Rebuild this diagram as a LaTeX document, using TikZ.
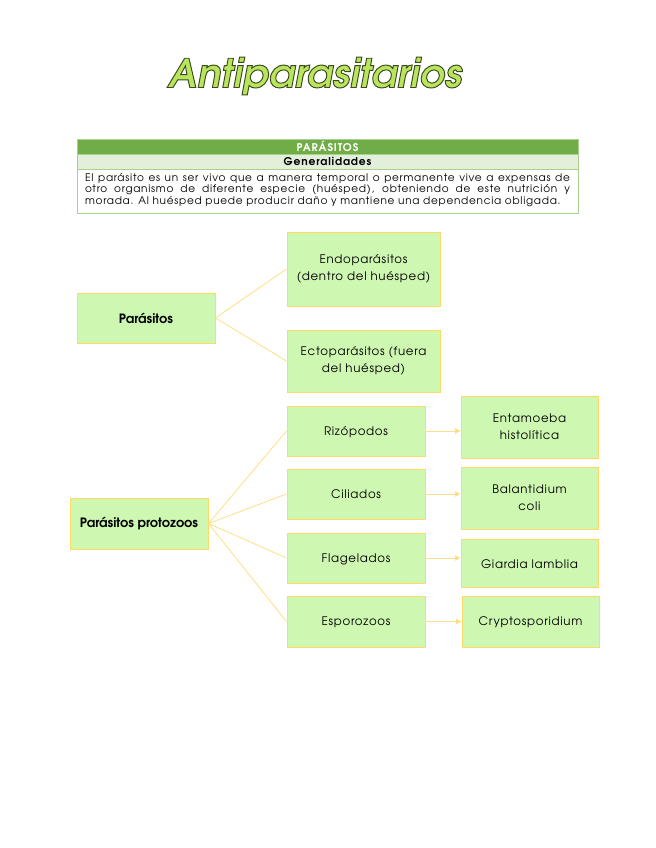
\documentclass[tikz,border=0pt]{standalone}
\usepackage{fontspec}
\setmainfont{texgyreadventor}[Extension=.otf, UprightFont=*-regular, BoldFont=*-bold, ItalicFont=*-italic, BoldItalicFont=*-bolditalic]
\newfontfamily\trackfont{texgyreadventor}[Extension=.otf, UprightFont=*-regular, BoldFont=*-bold, LetterSpace=6]
\newfontfamily\parafont{texgyreadventor}[Extension=.otf, UprightFont=*-regular, BoldFont=*-bold, LetterSpace=7]
\newfontfamily\headfont{texgyreadventor}[Extension=.otf, UprightFont=*-bold, LetterSpace=8]
\usetikzlibrary{arrows.meta,fit}
\definecolor{boxfill}{HTML}{CEF7B2}
\definecolor{boxline}{HTML}{FFD966}
\definecolor{conline}{HTML}{FFE08A}
\definecolor{hdrgreen}{HTML}{70AD47}
\definecolor{subgreen}{HTML}{E2EFDA}
\definecolor{tabline}{HTML}{A9D08E}
\definecolor{titlefill}{HTML}{B8E55C}
\tikzset{
  box/.style={draw=boxline, fill=boxfill, line width=0.9pt, inner sep=0pt},
  boxtext/.style={inner sep=0pt, align=center, font={\trackfont\fontsize{11}{15.5}\selectfont}},
  boldtext/.style={inner sep=0pt, align=center, font={\bfseries\fontsize{12}{15}\selectfont}},
  conn/.style={draw=conline, line width=0.8pt},
  arr/.style={conn, -{Triangle[length=5pt,width=5pt,fill=boxline]}}
}
\begin{document}
\begin{tikzpicture}[x=0.9344pt,y=-0.9344pt]
\useasboundingbox (0,0) rectangle (655,848);
% title
\node (title) at (315,76) {\fontsize{37}{37}\selectfont\bfseries\itshape\textcolor{titlefill}{\special{pdf:literal direct 2 Tr 0.9 w 0.23 0.29 0.12 RG}Antiparasitarios\special{pdf:literal direct 0 Tr}}};
% table
\fill[hdrgreen] (77,139) rectangle (578,154);
\fill[subgreen] (77,154) rectangle (578,169);
\draw[tabline, line width=0.8pt] (77,139) rectangle (578,213);
\draw[tabline, line width=0.8pt] (77,154) -- (578,154) (77,169) -- (578,169);
\node[text=white, font={\headfont\fontsize{10}{10}\selectfont}] (hdr) at (327.5,146.5) {PARÁSITOS};
\node[font={\headfont\fontsize{10}{10}\selectfont}] (gen) at (327.5,161.5) {Generalidades};
\node[text width=453pt, align=justify, inner sep=0pt, font={\parafont\fontsize{9.8}{10.8}\selectfont}] (para) at (327.5,190)
  {El parásito es un ser vivo que a manera temporal o permanente vive a expensas de\linebreak
   otro organismo de diferente especie (huésped), obteniendo de este nutrición y\linebreak
   morada. Al huésped puede producir daño y mantiene una dependencia obligada.};
% first group
\node[box, fit={(77,293)(215,343)}] (par) {};
\node[boldtext] (par-t) at (par.center) {Parásitos};
\node[box, fit={(287,232)(440,306)}] (endo) {};
\node[boxtext] (endo-t) at (endo.center) {Endoparásitos\\(dentro del huésped)};
\node[box, fit={(287,330)(440,392)}] (ecto) {};
\node[boxtext] (ecto-t) at (ecto.center) {Ectoparásitos (fuera\\del huésped)};
\draw[conn] (par.east) -- (endo.west);
\draw[conn] (par.east) -- (ecto.west);
% second group
\node[box, fit={(70,498)(208,549)}] (proto) {};
\node[boldtext] (proto-t) at (proto.center) {Parásitos protozoos};
\node[box, fit={(287,406)(425,456)}] (rizo) {};
\node[boxtext, yshift=-1.5pt] (rizo-t) at (rizo.center) {Rizópodos};
\node[box, fit={(287,469)(425,519)}] (cili) {};
\node[boxtext] (cili-t) at (cili.center) {Ciliados};
\node[box, fit={(287,533)(425,583)}] (flag) {};
\node[boxtext, yshift=-1pt] (flag-t) at (flag.center) {Flagelados};
\node[box, fit={(287,596)(425,647)}] (espo) {};
\node[boxtext, yshift=-1pt] (espo-t) at (espo.center) {Esporozoos};
\node[box, fit={(461,396)(598,458)}] (enta) {};
\node[boxtext] (enta-t) at (enta.center) {Entamoeba\\histolítica};
\node[box, fit={(461,467)(598,529)}] (bala) {};
\node[boxtext] (bala-t) at (bala.center) {Balantidium\\coli};
\node[box, fit={(461,539)(598,587)}] (giar) {};
\node[boxtext, yshift=-1pt] (giar-t) at (giar.center) {Giardia lamblia};
\node[box, fit={(462,596)(599,647)}] (cryp) {};
\node[boxtext, yshift=-1pt] (cryp-t) at (cryp.center) {Cryptosporidium};
\foreach \t in {rizo,cili,flag,espo} \draw[conn] (proto.east) -- (\t.west);
\draw[arr] (rizo.east) -- (enta.west |- rizo.east);
\draw[arr] (cili.east) -- (bala.west |- cili.east);
\draw[arr] (flag.east) -- (giar.west |- flag.east);
\draw[arr] (espo.east) -- (cryp.west |- espo.east);
\end{tikzpicture}
\end{document}
